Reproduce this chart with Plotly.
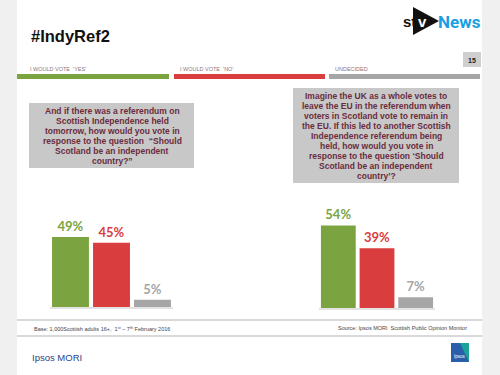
import plotly.graph_objects as go

categories = ["Yes", "No", "Undecided"]
q1_values = [49, 45, 5]
q2_values = [54, 39, 7]
value_labels_q1 = ["49%", "45%", "5%"]
value_labels_q2 = ["54%", "39%", "7%"]
legend_labels = ["I WOULD VOTE  'YES'", "I WOULD VOTE  'NO'", "UNDECIDED"]
q1_lines = ["And if there was a referendum on", "Scottish Independence held",
            "tomorrow, how would you vote in", "response to the question  \u201cShould",
            "Scotland be an independent", "country?\u201d"]
q2_lines = ["Imagine the UK as a whole votes to", "leave the EU in the referendum when",
            "voters in Scotland vote to remain in", "the EU. If this led to another Scottish",
            "Independence referendum being", "held, how would you vote in",
            "response to the question \u2018Should", "Scotland be an independent", "country\u2019?"]

colors = ["#7ba33f", "#d93d3d", "#a6a6a6"]
W, H = 500, 375


def X(px):
    return px / W


def Y(py):
    return 1 - py / H


fig = go.Figure()
fig.add_trace(go.Bar(x=categories, y=q1_values, text=value_labels_q1, textposition="outside",
                     marker=dict(color=colors, line=dict(width=0)),
                     textfont=dict(color=colors, family="Lato", size=13, weight=700),
                     cliponaxis=False, hoverinfo="skip", xaxis="x", yaxis="y"))
fig.add_trace(go.Bar(x=categories, y=q2_values, text=value_labels_q2, textposition="outside",
                     marker=dict(color=colors, line=dict(width=0)),
                     textfont=dict(color=colors, family="Lato", size=13, weight=700),
                     cliponaxis=False, hoverinfo="skip", xaxis="x2", yaxis="y2"))

axis_common = dict(showticklabels=False, showgrid=False, zeroline=False, ticks="", fixedrange=True)
shapes = []
# side background strips
shapes.append(dict(type="rect", xref="paper", yref="paper", x0=0, x1=X(17), y0=0, y1=1,
                   fillcolor="#f0f0f0", line=dict(width=0), layer="below"))
shapes.append(dict(type="rect", xref="paper", yref="paper", x0=X(482), x1=1, y0=0, y1=1,
                   fillcolor="#f0f0f0", line=dict(width=0), layer="below"))
# legend strips
strips = [(17, 169), (174, 325), (329, 480)]
for (a, b), c in zip(strips, colors):
    shapes.append(dict(type="rect", xref="paper", yref="paper", x0=X(a), x1=X(b), y0=Y(79), y1=Y(74),
                       fillcolor=c, line=dict(width=0)))
# page number box
shapes.append(dict(type="rect", xref="paper", yref="paper", x0=X(463), x1=X(481), y0=Y(67), y1=Y(52),
                   fillcolor="#cfcfcf", line=dict(width=0)))
# question boxes
shapes.append(dict(type="rect", xref="paper", yref="paper", x0=X(29), x1=X(194), y0=Y(168), y1=Y(103),
                   fillcolor="#c8c8c8", line=dict(width=0)))
shapes.append(dict(type="rect", xref="paper", yref="paper", x0=X(293), x1=X(459), y0=Y(183), y1=Y(88),
                   fillcolor="#c8c8c8", line=dict(width=0)))
# footer lines
for yy in (320, 336):
    shapes.append(dict(type="line", xref="paper", yref="paper", x0=X(17), x1=X(482), y0=Y(yy), y1=Y(yy),
                       line=dict(color="#d9d9d9", width=2)))
# stv logo triangle
shapes.append(dict(type="path", xref="paper", yref="paper",
                   path=f"M {X(413)} {Y(7)} L {X(439)} {Y(21)} L {X(413)} {Y(35)} Z",
                   fillcolor="#111111", line=dict(width=0)))
# ipsos logo
shapes.append(dict(type="rect", xref="paper", yref="paper", x0=X(451), x1=X(469), y0=Y(362), y1=Y(343),
                   fillcolor="#2a5ea8", line=dict(width=0)))
shapes.append(dict(type="path", xref="paper", yref="paper",
                   path=f"M {X(460)} {Y(343)} L {X(469)} {Y(343)} L {X(469)} {Y(362)} Z",
                   fillcolor="#1aa39a", line=dict(width=0)))

ann = []
ann.append(dict(text="<b>#IndyRef2</b>", x=X(29), y=Y(36), xanchor="left", yanchor="middle",
                font=dict(family="Liberation Sans", size=16.5, color="#111111")))
ann.append(dict(text="<b>st</b>", x=X(401), y=Y(22), xanchor="left", yanchor="middle",
                font=dict(family="Liberation Sans", size=15, color="#111111")))
ann.append(dict(text="<b>v</b>", x=X(416), y=Y(22), xanchor="left", yanchor="middle",
                font=dict(family="Liberation Sans", size=15, color="#ffffff")))
ann.append(dict(text="<b>News</b>", x=X(483), y=Y(22), xanchor="right", yanchor="middle",
                font=dict(family="Roboto", size=17, color="#1b9fe3")))
ann.append(dict(text="<b>15</b>", x=X(472), y=Y(60), xanchor="center", yanchor="middle",
                font=dict(family="Liberation Sans", size=7, color="#222222")))
for lbl, xx in zip(legend_labels, (28, 178, 333)):
    ann.append(dict(text=lbl, x=X(xx), y=Y(69), xanchor="left", yanchor="middle",
                    font=dict(family="Liberation Sans", size=5.5, color="#8c7582")))
for i, line in enumerate(q1_lines):
    ann.append(dict(text="<b>" + line + "</b>", x=X(112), y=Y(111 + 10 * i), xanchor="center",
                    yanchor="middle", font=dict(family="Liberation Sans", size=8.5, color="#6b2c3c")))
for i, line in enumerate(q2_lines):
    ann.append(dict(text="<b>" + line + "</b>", x=X(376), y=Y(96 + 10 * i), xanchor="center",
                    yanchor="middle", font=dict(family="Liberation Sans", size=8.5, color="#6b2c3c")))
ann.append(dict(text="Base: 1,000Scottish adults 16+,  1<sup>st</sup> \u2013 7<sup>th</sup> February 2016",
                x=X(32), y=Y(329), xanchor="left", yanchor="middle",
                font=dict(family="Liberation Sans", size=5.5, color="#444444")))
ann.append(dict(text="Source: Ipsos MORI  Scottish Public Opinion Monitor", x=X(469), y=Y(328),
                xanchor="right", yanchor="middle",
                font=dict(family="Liberation Sans", size=5.5, color="#444444")))
ann.append(dict(text="Ipsos MORI", x=X(30), y=Y(357), xanchor="left", yanchor="middle",
                font=dict(family="Liberation Sans", size=9.5, color="#2b3f8c")))
ann.append(dict(text="Ipsos", x=X(460), y=Y(356), xanchor="center", yanchor="middle",
                font=dict(family="Liberation Sans", size=4.5, color="#ffffff")))
for a in ann:
    a.update(xref="paper", yref="paper", showarrow=False)

fig.update_layout(
    width=W, height=H, autosize=False, margin=dict(l=0, r=0, t=0, b=0),
    paper_bgcolor="white", plot_bgcolor="rgba(0,0,0,0)", showlegend=False,
    bargap=0.1, shapes=shapes, annotations=ann,
    xaxis=dict(domain=[X(50), X(173)], showline=True, linecolor="#e3e3e3", linewidth=2, **axis_common),
    yaxis=dict(domain=[Y(307), Y(164)], range=[0, 100], showline=False, **axis_common),
    xaxis2=dict(domain=[X(319), X(435)], anchor="y2", showline=True, linecolor="#e3e3e3", linewidth=2, **axis_common),
    yaxis2=dict(domain=[Y(308), Y(155)], range=[0, 100], anchor="x2", showline=False, **axis_common),
)

fig.write_html("out.html", config={"displayModeBar": False},
               post_script="document.body.style.margin='0';document.body.style.overflow='hidden';")
